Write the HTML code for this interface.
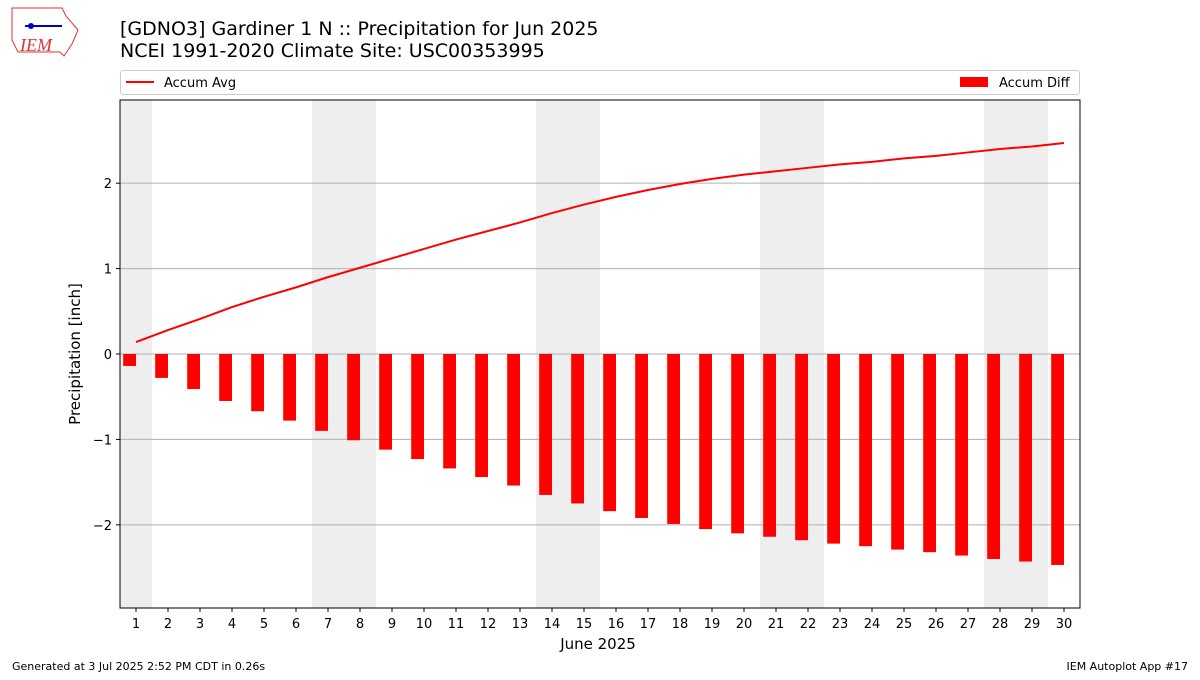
<!DOCTYPE html>
<html><head><meta charset="utf-8"><style>
body{margin:0;background:#fff;font-family:"Liberation Sans","DejaVu Sans",sans-serif;}
</style></head><body>
<svg id="chart" width="1200" height="675" xmlns="http://www.w3.org/2000/svg" font-family="DejaVu Sans, Liberation Sans, sans-serif">
<g>
<path d="M12 8 L62 8 L66 16 L78 30 L72 44 L64 56 L60 52 L18 52 L12 40 Z" fill="#fff" stroke="#d33" stroke-width="1"/>
<line x1="25" y1="26" x2="62" y2="26" stroke="#00c" stroke-width="2"/>
<circle cx="31" cy="26" r="3" fill="#00c"/>
<text x="20" y="51" font-family="Liberation Serif, serif" font-style="italic" font-size="18" fill="#d33">IEM</text>
</g>
<text x="120" y="35" font-size="19" fill="#000">[GDNO3] Gardiner 1 N :: Precipitation for Jun 2025</text>
<text x="120" y="57" font-size="19" fill="#000">NCEI 1991-2020 Climate Site: USC00353995</text>
<g>
<rect x="120.5" y="70.5" width="959" height="24" rx="3" fill="#fff" stroke="#ccc"/>
<line x1="126" y1="82" x2="154" y2="82" stroke="red" stroke-width="2"/>
<text x="164" y="87" font-size="13">Accum Avg</text>
<rect x="960" y="77" width="28" height="10" fill="red"/>
<text x="999" y="87" font-size="13">Accum Diff</text>
</g>
<g id="plot"></g>
<text x="598" y="649" font-size="15" text-anchor="middle">June 2025</text>
<text transform="translate(80,354) rotate(-90)" font-size="15" text-anchor="middle">Precipitation [inch]</text>
<text x="12" y="670" font-size="11">Generated at 3 Jul 2025 2:52 PM CDT in 0.26s</text>
<text x="1188" y="670" font-size="11" text-anchor="end">IEM Autoplot App #17</text>
</svg>
<script>
const days=[1,2,3,4,5,6,7,8,9,10,11,12,13,14,15,16,17,18,19,20,21,22,23,24,25,26,27,28,29,30];
const accumAvg=[0.14,0.28,0.41,0.55,0.67,0.78,0.90,1.01,1.12,1.23,1.34,1.44,1.54,1.65,1.75,1.84,1.92,1.99,2.05,2.10,2.14,2.18,2.22,2.25,2.29,2.32,2.36,2.40,2.43,2.47];
const accumDiff=[-0.14,-0.28,-0.41,-0.55,-0.67,-0.78,-0.90,-1.01,-1.12,-1.23,-1.34,-1.44,-1.54,-1.65,-1.75,-1.84,-1.92,-1.99,-2.05,-2.10,-2.14,-2.18,-2.22,-2.25,-2.29,-2.32,-2.36,-2.40,-2.43,-2.47];
const weekendDays=[1,7,8,14,15,21,22,28,29];
const yTicks=[-2,-1,0,1,2];
const NS="http://www.w3.org/2000/svg";
const L=120,R=1080,T=100,B=608;
const ymin=-2.974,ymax=2.974;
const xs=d=>L+(d-0.5)/30*(R-L);
const ys=v=>B-(v-ymin)/(ymax-ymin)*(B-T);
const g=document.getElementById('plot');
function mk(t,a){const e=document.createElementNS(NS,t);for(const k in a)e.setAttribute(k,a[k]);g.appendChild(e);return e;}
weekendDays.forEach(d=>{
 const e=mk('rect',{x:xs(d-0.5),y:T,width:xs(d+0.5)-xs(d-0.5),height:B-T,fill:'#eee'});
 
 
});
yTicks.forEach(v=>{
 const l=mk('line',{x1:L,x2:R,y1:ys(v),y2:ys(v),stroke:'#b0b0b0','stroke-width':1});
 
 
 mk('line',{x1:L-4,x2:L,y1:ys(v),y2:ys(v),stroke:'#000'});
 const t=mk('text',{x:L-8,y:ys(v)+5,'font-size':13,'text-anchor':'end'});
 t.textContent=(v<0?'\u2212'+(-v):v);
 
 
});
days.forEach((d,i)=>{
 const v=accumDiff[i];
 const w=0.4*(R-L)/30;
 const b=mk('rect',{x:xs(d)-w,y:Math.min(ys(0),ys(v)),width:w,height:Math.abs(ys(v)-ys(0)),fill:'red'});
 
 
 mk('line',{x1:xs(d),x2:xs(d),y1:B,y2:B+4,stroke:'#000'});
 const t=mk('text',{x:xs(d),y:B+20,'font-size':13,'text-anchor':'middle'});
 t.textContent=d;
 
 
});
const p=mk('polyline',{points:days.map((d,i)=>xs(d)+','+ys(accumAvg[i])).join(' '),fill:'none',stroke:'red','stroke-width':2});


const f=mk('rect',{x:L,y:T,width:R-L,height:B-T,fill:'none',stroke:'#000','stroke-width':1});


</script>
</body></html>
